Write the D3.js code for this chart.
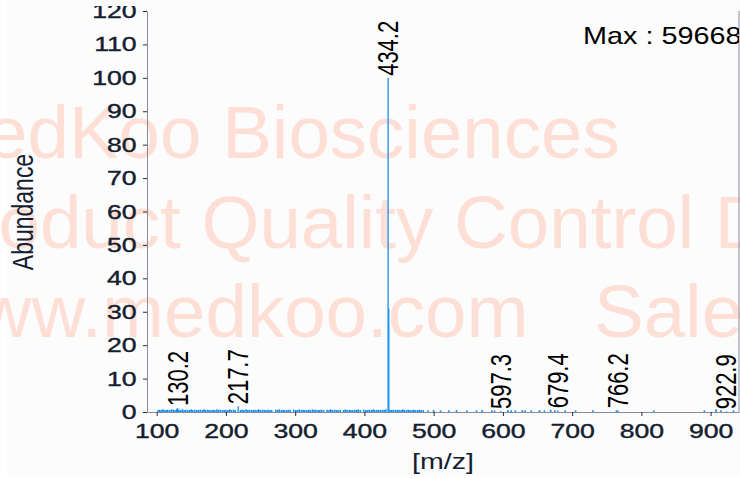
<!DOCTYPE html>
<html>
<head>
<meta charset="utf-8">
<script src="https://cdn.jsdelivr.net/npm/d3@7"></script>
<style>
  body { margin: 0; background: #fff; }
  svg { display: block; font-family: "Liberation Sans", Arial, sans-serif; }
</style>
</head>
<body>
<svg id="chart" width="740" height="478"></svg>
<script>
// labelled peaks (m/z, relative abundance %)
var peakMz  = [130.2, 217.7, 434.2, 435.2, 597.3, 679.4, 766.2, 922.9];
var peakInt = [1.2,   1.7,   100,   31,    0.3,   0.5,   0.5,   0.2];
var labelMz = [130.2, 217.7, 434.2, 597.3, 679.4, 766.2, 922.9];

// low level baseline noise [m/z, abundance]
var noise = [
  [102,0.6],[104.5,0.7],[107,0.6],[109,0.8],[111.5,0.6],[114,0.6],[116,0.7],[119,0.6],[121.5,0.8],[124,0.7],
  [126.5,0.6],[129,0.9],[132,0.7],[134.5,0.6],[137,0.8],[139.5,0.6],[142,0.7],[145,0.6],[147.5,0.6],[150,0.8],
  [152,0.6],[155,0.7],[158,0.6],[160.5,0.6],[163,0.7],[166,0.6],[168.5,0.8],[171,0.6],[174,0.7],[176.5,0.6],
  [179,0.6],[181.5,0.7],[184,0.6],[187,0.8],[189.5,0.6],[192,0.7],[195,0.6],[197.5,0.6],[200,0.7],[203,0.6],
  [205.5,0.8],[208,0.6],[211,0.7],[213.5,0.6],[221,0.6],[223.5,0.7],[226,0.6],[229,0.8],[231.5,0.6],[234,0.7],
  [237,0.6],[239.5,0.6],[242,0.7],[245,0.6],[247.5,0.8],[250,0.6],[253,0.7],[255.5,0.6],[258,0.6],[261,0.7],
  [263.5,0.6],[266,0.6],[272,0.7],[274.5,0.6],[277,0.8],[280,0.6],[282.5,0.7],[285,0.6],[288,0.6],[290.5,0.7],
  [293,0.6],[298,0.7],[301,0.6],[303.5,0.6],[306,0.8],[309,0.6],[311.5,0.7],[314,0.6],[317,0.6],[319.5,0.7],
  [322,0.6],[325,0.8],[327.5,0.6],[330,0.7],[333,0.6],[335.5,0.6],[338,0.7],[341,0.6],[346,0.7],[349,0.6],
  [351.5,0.8],[354,0.6],[357,0.7],[359.5,0.6],[362,0.6],[365,0.7],[370,0.6],[372.5,0.8],[375,0.6],[378,0.7],
  [380.5,0.6],[383,0.6],[386,0.7],[388.5,0.6],[391,0.8],[394,0.6],[399,0.7],[402,0.6],[404.5,0.6],[407,0.7],
  [410,0.6],[412.5,0.8],[415,0.6],[418,0.7],[420.5,0.6],[423,0.6],[426,0.7],[428.5,0.6],[431,0.8],[437,0.7],
  [439.5,0.6],[442,0.7],[445,0.6],[447.5,0.6],[450,0.7],[453,0.6],[455.5,0.8],[458,0.6],[461,0.6],[463.5,0.7],
  [466,0.6],[469,0.6],[471.5,0.7],[474,0.6],[477,0.6],[479.5,0.7],[482,0.6],[485,0.6],
  [492,0.5],[500,0.6],[510,0.5],[522,0.5],[533,0.6],[548,0.5],[562,0.5],[570,0.6],[584,0.5],[588,0.5],
  [607,0.6],[612,0.5],[618,0.5],[628,0.6],[632,0.5],[641,0.5],[653,0.6],[660,0.5],[669,0.7],[675,0.5],
  [690,0.5],[705,0.5],[730,0.5],[764,0.5],[818,0.5],[891,0.5],[908,0.8],[915,0.5],[933,0.5]
];

var xTicks = [100, 200, 300, 400, 500, 600, 700, 800, 900];
var yTicks = [0, 10, 20, 30, 40, 50, 60, 70, 80, 90, 100, 110, 120];
var maxText = "Max : 596688";
var watermark = ["MedKoo Biosciences", "Product Quality Control Department", "www.medkoo.com"];
var watermark2 = "Sales@medkoo.com";

var svg = d3.select("#chart");
var defs = svg.append("defs");
var blue = "#1890ee";
var ink = "#14202e";
var sx = 1.3; // glyphs in the source are stretched horizontally

var x = d3.scaleLinear().domain([86, 941]).range([147, 739]);
var y = d3.scaleLinear().domain([0, 120]).range([412, 11]);

svg.append("rect").attr("x", 7).attr("y", 0).attr("width", 733).attr("height", 476).attr("fill", "#fcfcfd");

// watermark
var wm = svg.append("g").attr("fill", "#fddfd6").attr("font-size", 74.5);
watermark.forEach(function(t, i){
  wm.append("text").attr("x", -76).attr("y", 158 + i * 89.5).text(t);
});
wm.append("text").attr("x", 594).attr("y", 337).text(watermark2);

defs.append("clipPath").attr("id", "clipTop")
  .append("rect").attr("x", 0).attr("y", 6).attr("width", 740).attr("height", 472);

var axes = svg.append("g").attr("clip-path", "url(#clipTop)");

var yAxis = axes.append("g")
  .attr("transform", "translate(" + x.range()[0] + ",0)")
  .call(d3.axisLeft(y).tickValues(yTicks).tickSize(4).tickSizeOuter(0).tickPadding(4));

var xAxis = axes.append("g")
  .attr("transform", "translate(0," + y(0) + ")")
  .call(d3.axisBottom(x).tickValues(xTicks).tickSize(4).tickSizeOuter(0).tickPadding(7));

[yAxis, xAxis].forEach(function(a){
  a.select(".domain").attr("stroke", "#8a8a9e");
  a.selectAll(".tick line").attr("stroke", "#2a2a36");
  a.selectAll(".tick text")
    .attr("fill", ink)
    .attr("stroke", ink)
    .attr("stroke-width", 0.4)
    .attr("font-size", 20.5)
    .attr("font-family", "Liberation Sans, Arial, sans-serif")
    .attr("transform", "scale(" + sx + ",1)");
});

// right frame
axes.append("line")
  .attr("x1", x.range()[1]).attr("x2", x.range()[1])
  .attr("y1", y.range()[1]).attr("y2", y.range()[0])
  .attr("stroke", "#8a8a9e");

// spectrum sticks
var plot = svg.append("g");
plot.selectAll("line.noise").data(noise).enter().append("line")
  .attr("class", "noise")
  .attr("x1", function(d){ return x(d[0]); }).attr("x2", function(d){ return x(d[0]); })
  .attr("y1", y(0)).attr("y2", function(d){ return y(d[1]); })
  .attr("stroke", blue).attr("stroke-width", 1.6);

plot.selectAll("line.peak").data(peakMz).enter().append("line")
  .attr("class", "peak")
  .attr("x1", function(d){ return x(d); }).attr("x2", function(d){ return x(d); })
  .attr("y1", y(0)).attr("y2", function(d, i){ return y(peakInt[i]); })
  .attr("stroke", blue).attr("stroke-width", 1.3);

// peak labels
plot.selectAll("text.lab").data(labelMz).enter().append("text")
  .attr("class", "lab")
  .attr("font-size", 22)
  .attr("fill", "#000")
  .attr("dy", "0.35em")
  .attr("transform", function(d){
    var h = peakInt[peakMz.indexOf(d)];
    return "translate(" + x(d) + "," + (y(h) - 2) + ") scale(" + sx + ",1) rotate(-90)";
  })
  .text(function(d){ return d.toFixed(1); });

// max text, clipped at the frame
defs.append("clipPath").attr("id", "clipMax")
  .append("rect").attr("x", 0).attr("y", 0).attr("width", 739).attr("height", 478);
svg.append("g").attr("clip-path", "url(#clipMax)")
  .append("text")
  .attr("font-size", 24).attr("fill", "#000")
  .attr("transform", "translate(583,44) scale(1.2,1)")
  .text(maxText);

// axis titles
svg.append("text")
  .attr("font-size", 22).attr("fill", ink).attr("text-anchor", "middle")
  .attr("transform", "translate(443,469) scale(" + sx + ",1)")
  .text("[m/z]");

svg.append("text")
  .attr("font-size", 23).attr("fill", ink).attr("text-anchor", "middle")
  .attr("transform", "translate(33,212) scale(" + sx + ",1) rotate(-90)")
  .text("Abundance");
</script>
</body>
</html>
